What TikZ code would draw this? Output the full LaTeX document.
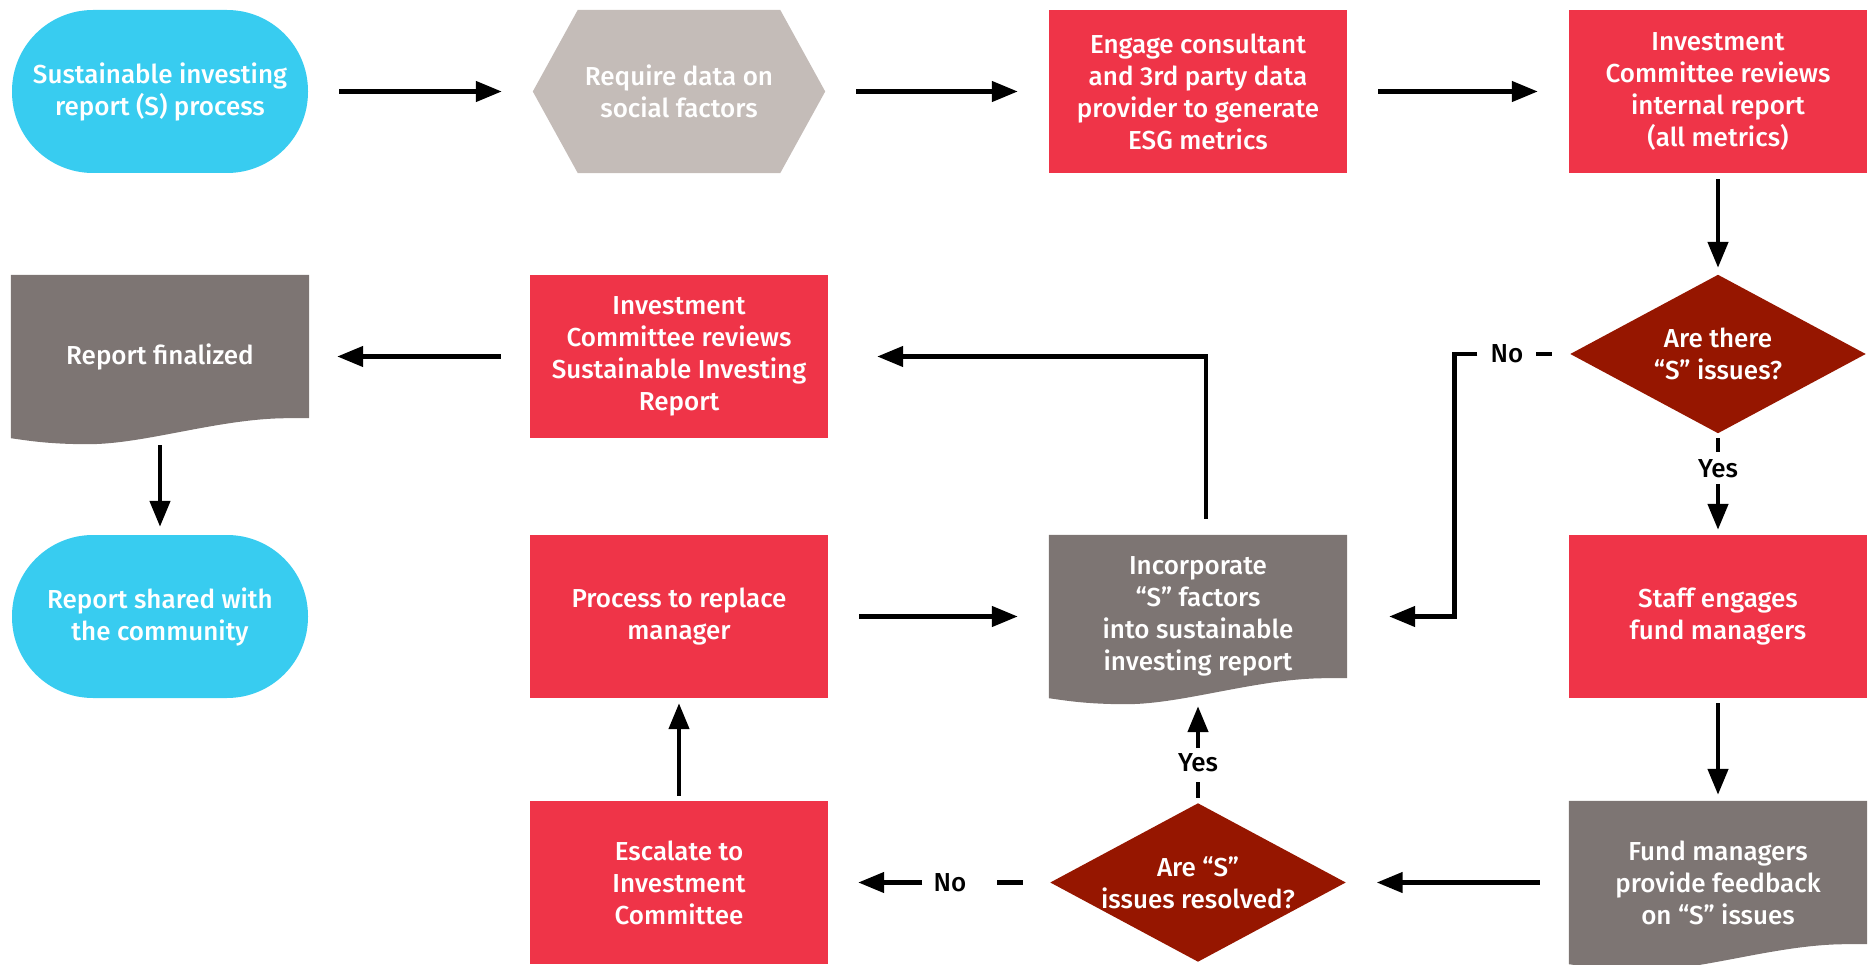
\documentclass[tikz,border=0pt]{standalone}
\usepackage{fontspec}
\setmainfont{Fira Sans}[UprightFont=* Medium, BoldFont=* Bold]
\usetikzlibrary{arrows.meta,calc,backgrounds}
\definecolor{skyblue}{HTML}{38CCF0}
\definecolor{boxred}{HTML}{EF3448}
\definecolor{darkred}{HTML}{961600}
\definecolor{docgray}{HTML}{7D7573}
\definecolor{hexgray}{HTML}{C4BCB8}
\newcommand{\flowfont}{\fontsize{26}{32}\selectfont}
\newcommand{\hexfill}[1]{%
  \fill[hexgray] ($(#1.north west)+(45,0)$) -- ($(#1.north east)+(-45,0)$) -- (#1.east)
    -- ($(#1.south east)+(-45,0)$) -- ($(#1.south west)+(45,0)$) -- (#1.west) -- cycle;}
\newcommand{\decfill}[1]{%
  \fill[darkred] (#1.north) -- (#1.east) -- (#1.south) -- (#1.west) -- cycle;}
\newcommand{\docfill}[1]{%
  \fill[docgray] (#1.north west) -- (#1.north east) -- ($(#1.south east)+(0,-20)$)
    -- ($(#1.south west)!0.93!(#1.south east)+(0,-20)$)
    .. controls ($(#1.south west)!0.7!(#1.south east)+(0,-20)$)
    and ($(#1.south west)!0.45!(#1.south east)+(0,6)$)
    .. ($(#1.south west)!0.26!(#1.south east)+(0,6)$)
    .. controls ($(#1.south west)!0.12!(#1.south east)+(0,6)$)
    and ($(#1.south west)!0.05!(#1.south east)+(0,2)$)
    .. (#1.south west) -- cycle;}
\begin{document}
\begin{tikzpicture}[x=1pt,y=1pt,yscale=-1,xscale=1,
  every node/.style={font=\flowfont, align=center, inner sep=0pt},
  box/.style={rectangle, fill=boxred, text=white, minimum width=298pt, minimum height=163pt},
  term/.style={rectangle, rounded corners=81pt, fill=skyblue, text=white, minimum width=296pt, minimum height=163pt},
  hexa/.style={rectangle, text=white, minimum width=292pt, minimum height=163pt},
  doc/.style={rectangle, text=white, minimum width=298pt, minimum height=163pt},
  dec/.style={rectangle, text=white, minimum width=295pt, minimum height=158pt},
  lbl/.style={text=black},
  arr/.style={line width=4.5pt, -{Triangle[length=26pt,width=20pt]}},
  stub/.style={line width=4.5pt},
  hshort/.style={shorten <=31pt, shorten >=31pt}]
\useasboundingbox (0,0) rectangle (1869,965);
\node[term] (start) at (160,91.5) {Sustainable investing\\report (S) process};
\node[hexa] (data) at (679,91.5) {Require data on\\social factors};
\node[box] (engage) at (1198,91.5) {Engage consultant\\and 3rd party data\\provider to generate\\ESG metrics};
\node[box] (icint) at (1718,91.5) {Investment\\Committee reviews\\internal report\\(all metrics)};
\node[doc] (final) at (160,356.5) {\raisebox{-5pt}{Report finalized}};
\node[box] (icsir) at (679,356.5) {Investment\\Committee reviews\\Sustainable Investing\\Report};
\node[dec] (sissues) at (1718,354) {Are there\\“S” issues?};
\node[term] (shared) at (160,616.5) {Report shared with\\the community};
\node[box] (replace) at (679,616.5) {Process to replace\\manager};
\node[doc] (incorp) at (1198,616.5) {Incorporate\\“S” factors\\into sustainable\\investing report};
\node[box] (staff) at (1718,616.5) {Staff engages\\fund managers};
\node[box] (escalate) at (679,882.5) {Escalate to\\Investment\\Committee};
\node[dec] (resolved) at (1198,882.5) {Are “S”\\issues resolved?};
\node[doc] (feedback) at (1718,882.5) {Fund managers\\provide feedback\\on “S” issues};
\node[lbl] (no1) at (1507,354) {No};
\node[lbl] (yes1) at (1718,469) {Yes};
\node[lbl] (yes2) at (1198,763) {Yes};
\node[lbl] (no2) at (950,882.5) {No};
\begin{scope}[on background layer]
\hexfill{data}
\decfill{sissues}
\decfill{resolved}
\docfill{final}
\docfill{incorp}
\docfill{feedback}
\end{scope}
\draw[arr, hshort] (start.east) -- (data.west);
\draw[arr, hshort] (data.east) -- (engage.west);
\draw[arr, hshort] (engage.east) -- (icint.west);
\draw[arr, shorten <=6pt, shorten >=7pt] (icint.south) -- (sissues.north);
\draw[stub, shorten <=5pt, shorten >=7.5pt] (sissues.south) -- (yes1.north);
\draw[arr, shorten <=5.5pt, shorten >=5pt] (yes1.south) -- (staff.north);
\draw[stub, shorten <=18.5pt, shorten >=12pt] (sissues.west) -- (no1.east);
\draw[arr, shorten <=13pt, shorten >=42pt] (no1.west) -- ++(-36,0) |- (incorp.east);
\draw[arr, shorten <=16pt, shorten >=49pt] ($(incorp.north)+(8,0)$) |- (icsir.east);
\draw[arr, shorten <=29pt, shorten >=28pt] (icsir.west) -- (final.east);
\draw[arr, shorten <=7pt, shorten >=8pt] (final.south) -- (shared.north);
\draw[arr, hshort] (replace.east) -- (incorp.west);
\draw[arr, shorten <=5pt, shorten >=6pt] (staff.south) -- (feedback.north);
\draw[arr, shorten <=29pt, shorten >=31pt] (feedback.west) -- (resolved.east);
\draw[stub, shorten <=5.5pt, shorten >=9.5pt] (resolved.north) -- (yes2.south);
\draw[arr, shorten <=5.5pt, shorten >=8pt] (yes2.north) -- (incorp.south);
\draw[stub, shorten <=27.5pt, shorten >=30pt] (resolved.west) -- (no2.east);
\draw[arr, shorten <=11pt, shorten >=30pt] (no2.west) -- (escalate.east);
\draw[arr, shorten <=5pt, shorten >=5pt] (escalate.north) -- (replace.south);
\end{tikzpicture}
\end{document}
